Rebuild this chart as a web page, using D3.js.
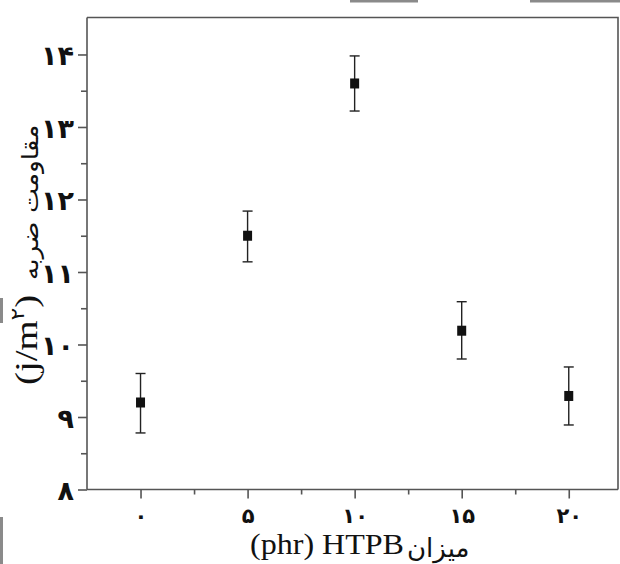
<!DOCTYPE html>
<html>
<head>
<meta charset="utf-8">
<script src="https://cdn.jsdelivr.net/npm/d3@7"></script>
<style>
  body { margin: 0; background: #fff; }
  svg { display: block; }
</style>
</head>
<body>
<div class="chart"></div>
<script>
// data
var xValues = [0, 5, 10, 15, 20];
var yMeans = [9.2, 11.5, 13.6, 10.19, 9.29];
var yLow = [8.78, 11.14, 13.22, 9.8, 8.89];
var yHigh = [9.6, 11.84, 13.98, 10.59, 9.69];

var xTickValues = [0, 5, 10, 15, 20];
var xTickLabels = ["۰", "۵", "۱۰", "۱۵", "۲۰"];
var xMinorTicks = [2.5, 7.5, 12.5, 17.5];
var yTickValues = [8, 9, 10, 11, 12, 13, 14];
var yTickLabels = ["۸", "۹", "۱۰", "۱۱", "۱۲", "۱۳", "۱۴"];
var yMinorTicks = [8.5, 9.5, 10.5, 11.5, 12.5, 13.5];

var svgWidth = 620;
var svgHeight = 564;

var plot = { left: 87, right: 618, top: 17.5, bottom: 489.5 };

var svg = d3.select(".chart")
  .append("svg")
  .attr("width", svgWidth)
  .attr("height", svgHeight);

var xScale = d3.scaleLinear()
  .domain([-2.5, 22.3])
  .range([plot.left, plot.right]);

var yScale = d3.scaleLinear()
  .domain([8, 14.51])
  .range([plot.bottom, plot.top]);

var axisColor = "#555";
var persian = "'DejaVu Sans', sans-serif";
var serif = "'Liberation Serif', 'Times New Roman', serif";

// scan artifacts at the edges of the picture
var artifacts = [[350, 0, 68, 2.5], [530, 0, 90, 2.5], [0, 298, 3, 25], [0, 517, 3, 47]];
svg.selectAll("rect.artifact")
  .data(artifacts)
  .enter()
  .append("rect")
  .attr("class", "artifact")
  .attr("x", d => d[0]).attr("y", d => d[1])
  .attr("width", d => d[2]).attr("height", d => d[3])
  .attr("fill", "#8a8a8a");

// frame: top and right edges
svg.append("path")
  .attr("d", `M${plot.left},${plot.top}H${plot.right}V${plot.bottom}`)
  .attr("fill", "none")
  .attr("stroke", axisColor)
  .attr("stroke-width", 1.6);

// bottom axis
var bottomAxis = d3.axisBottom(xScale)
  .tickValues(xTickValues)
  .tickSize(9)
  .tickFormat((d, i) => xTickLabels[i]);

var gx = svg.append("g")
  .attr("transform", `translate(0, ${plot.bottom})`)
  .call(bottomAxis);

svg.append("g")
  .attr("transform", `translate(0, ${plot.bottom})`)
  .call(d3.axisBottom(xScale).tickValues(xMinorTicks).tickSize(5).tickFormat(""))
  .select(".domain").remove();

// left axis
var leftAxis = d3.axisLeft(yScale)
  .tickValues(yTickValues)
  .tickSize(9)
  .tickFormat((d, i) => yTickLabels[i]);

var gy = svg.append("g")
  .attr("transform", `translate(${plot.left}, 0)`)
  .call(leftAxis);

svg.append("g")
  .attr("transform", `translate(${plot.left}, 0)`)
  .call(d3.axisLeft(yScale).tickValues(yMinorTicks).tickSize(6).tickFormat(""))
  .select(".domain").remove();

svg.selectAll(".domain, .tick line")
  .attr("stroke", axisColor)
  .attr("stroke-width", 1.6);
gx.select(".domain").attr("d", `M${plot.left},0H${plot.right}`);
gy.select(".domain").attr("d", `M0,${plot.bottom}V${plot.top}`);

gx.selectAll(".tick text")
  .attr("y", 0)
  .attr("dy", 0)
  .attr("transform", "translate(0, 33)")
  .style("font-family", persian)
  .style("font-size", "21px")
  .style("font-weight", "bold")
  .attr("fill", "#111");

gy.selectAll(".tick text")
  .attr("x", -13)
  .attr("dy", "0.38em")
  .style("font-family", persian)
  .style("font-size", "27px")
  .style("font-weight", "bold")
  .attr("fill", "#111");

// error bars
var points = xValues.map((x, i) => ({ x: x, y: yMeans[i], lo: yLow[i], hi: yHigh[i] }));
var errColor = "#222";
var capHalf = 5;

var errGroup = svg.append("g");
errGroup.selectAll("line.stem")
  .data(points)
  .enter()
  .append("line")
  .attr("class", "stem")
  .attr("x1", d => xScale(d.x)).attr("x2", d => xScale(d.x))
  .attr("y1", d => yScale(d.lo)).attr("y2", d => yScale(d.hi))
  .attr("stroke", errColor).attr("stroke-width", 1.4);

["lo", "hi"].forEach(function(k) {
  errGroup.selectAll("line.cap-" + k)
    .data(points)
    .enter()
    .append("line")
    .attr("class", "cap-" + k)
    .attr("x1", d => xScale(d.x) - capHalf).attr("x2", d => xScale(d.x) + capHalf)
    .attr("y1", d => yScale(d[k])).attr("y2", d => yScale(d[k]))
    .attr("stroke", errColor).attr("stroke-width", 1.4);
});

// square markers
svg.selectAll("rect.marker")
  .data(points)
  .enter()
  .append("rect")
  .attr("class", "marker")
  .attr("x", d => xScale(d.x) - 4.5)
  .attr("y", d => yScale(d.y) - 5)
  .attr("width", 9)
  .attr("height", 10)
  .attr("fill", "#111");

// x axis title
svg.append("text")
  .attr("x", 250)
  .attr("y", 554)
  .attr("textLength", 154)
  .attr("lengthAdjust", "spacingAndGlyphs")
  .style("font-family", serif)
  .style("font-size", "29px")
  .attr("fill", "#111")
  .text("(phr) HTPB");

svg.append("text")
  .attr("x", 407)
  .attr("y", 557)
  .attr("text-anchor", "start")
  .style("font-family", persian)
  .style("font-size", "26px")
  .attr("fill", "#111")
  .text("میزان");

// y axis title
var yUnit = svg.append("text")
  .attr("transform", "translate(37, 385) rotate(-90) scale(1.25, 1)")
  .attr("text-anchor", "start")
  .style("font-family", serif)
  .style("font-size", "31px")
  .attr("fill", "#111");
yUnit.append("tspan").text("(j/m");
yUnit.append("tspan")
  .attr("dy", -13)
  .style("font-family", persian)
  .style("font-size", "19px")
  .text("۲");
yUnit.append("tspan").attr("dy", 13).text(")");

svg.append("text")
  .attr("transform", "translate(38, 280) rotate(-90) scale(1.15, 1)")
  .attr("text-anchor", "start")
  .style("font-family", persian)
  .style("font-size", "23px")
  .attr("fill", "#111")
  .text("مقاومت ضربه");
</script>
</body>
</html>
